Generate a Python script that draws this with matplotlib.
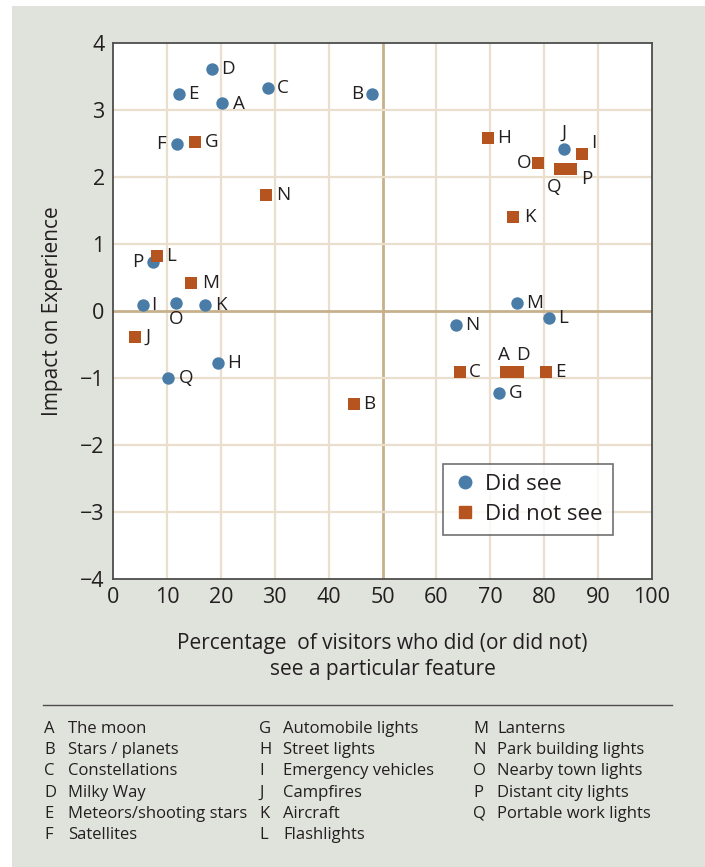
import matplotlib
matplotlib.use('Agg')
import matplotlib.pyplot as plt
from matplotlib.patches import Rectangle
from matplotlib.lines import Line2D

plt.rcParams['font.family'] = ['Open Sans', 'DejaVu Sans']

# data
seen_labels = ['A', 'B', 'C', 'D', 'E', 'F', 'G', 'H', 'I', 'J', 'K', 'L', 'M', 'N', 'O', 'P', 'Q']
seen_x = [20.2, 48.1, 28.8, 18.4, 12.2, 11.8, 71.6, 19.5, 5.5, 83.7, 17.1, 80.9, 74.9, 63.6, 11.7, 7.4, 10.2]
seen_y = [3.10, 3.24, 3.33, 3.61, 3.24, 2.49, -1.22, -0.78, 0.09, 2.42, 0.09, -0.10, 0.12, -0.21, 0.12, 0.73, -1.00]

notseen_labels = ['A', 'B', 'C', 'D', 'E', 'G', 'H', 'I', 'J', 'K', 'L', 'M', 'N', 'O', 'P', 'Q']
notseen_x = [72.9, 44.7, 64.4, 75.1, 80.3, 15.2, 69.5, 87.0, 4.1, 74.3, 8.1, 14.5, 28.4, 78.9, 85.0, 83.0]
notseen_y = [-0.91, -1.39, -0.91, -0.91, -0.91, 2.52, 2.58, 2.34, -0.39, 1.40, 0.82, 0.42, 1.73, 2.21, 2.12, 2.12]

key_letters = ['A', 'B', 'C', 'D', 'E', 'F', 'G', 'H', 'I', 'J', 'K', 'L', 'M', 'N', 'O', 'P', 'Q']
key_names = ['The moon', 'Stars / planets', 'Constellations', 'Milky Way', 'Meteors/shooting stars',
             'Satellites', 'Automobile lights', 'Street lights', 'Emergency vehicles', 'Campfires',
             'Aircraft', 'Flashlights', 'Lanterns', 'Park building lights', 'Nearby town lights',
             'Distant city lights', 'Portable work lights']

# label offsets in pixels (dx, dy) -- dy positive = up
seen_off = {'A': (17, -1), 'B': (-15, 0), 'C': (15, 0), 'D': (16, 0), 'E': (15, 0), 'F': (-16, 0),
            'G': (17, 0), 'H': (16, 0), 'I': (11, 0), 'J': (0, 16), 'K': (16, 0), 'L': (14, 0),
            'M': (18, 0), 'N': (16, 0), 'O': (0, -16), 'P': (-15, 0), 'Q': (18, 0)}
notseen_off = {'A': (-2, 17), 'B': (15, 0), 'C': (15, 0), 'D': (5, 17), 'E': (15, 0), 'G': (17, 0),
               'H': (16, 0), 'I': (12, 11), 'J': (13, 0), 'K': (16, 0), 'L': (14, 0), 'M': (19, 0),
               'N': (17, 0), 'O': (-14, 0), 'P': (16, -10), 'Q': (-6, -18)}

blue = '#4a7ca8'
orange = '#b5541f'
bg = '#e0e2dc'
grid_c = '#eadfcc'
mid_c = '#c7b18c'
text_c = '#231f20'

fig = plt.figure(figsize=(7.05, 8.67), dpi=100)
fig.patch.set_facecolor('white')
fig.patches.append(Rectangle((12 / 705, 0), 1 - 12 / 705, 1 - 6 / 867, transform=fig.transFigure,
                             facecolor=bg, edgecolor='none', zorder=-10))

ax = fig.add_axes([113 / 705, 1 - 579 / 867, 539 / 705, 536 / 867])
ax.set_facecolor('white')
ax.set_xlim(0, 100)
ax.set_ylim(-4, 4)
ax.set_xticks(range(0, 101, 10))
ax.set_yticks(range(-4, 5))
ax.set_yticklabels([str(v).replace('-', '\u2212') for v in range(-4, 5)])
ax.tick_params(length=0, labelsize=15.5, colors=text_c, pad=6)
for v in range(10, 100, 10):
    ax.axvline(v, color=mid_c if v == 50 else grid_c, lw=2 if v == 50 else 1.6, zorder=1)
for v in range(-3, 4):
    ax.axhline(v, color=mid_c if v == 0 else grid_c, lw=2 if v == 0 else 1.6, zorder=1)
for s in ax.spines.values():
    s.set_color('#4d4d4d')
    s.set_linewidth(1.3)

ax.scatter(seen_x, seen_y, s=80, marker='o', color=blue, zorder=3, linewidths=0)
ax.scatter(notseen_x, notseen_y, s=66, marker='s', color=orange, zorder=3, linewidths=0)

for lab, x, y in zip(seen_labels, seen_x, seen_y):
    ax.annotate(lab, (x, y), xytext=seen_off[lab], textcoords='offset pixels',
                ha='center', va='center', fontsize=13.5, color=text_c, zorder=4)
for lab, x, y in zip(notseen_labels, notseen_x, notseen_y):
    ax.annotate(lab, (x, y), xytext=notseen_off[lab], textcoords='offset pixels',
                ha='center', va='center', fontsize=13.5, color=text_c, zorder=4)

handles = [Line2D([], [], marker='o', ls='none', color=blue, markersize=9),
           Line2D([], [], marker='s', ls='none', color=orange, markersize=8)]
leg = ax.legend(handles, ['Did see', 'Did not see'], loc='upper left',
                bbox_to_anchor=((443 - 113) / 539, (579 - 464) / 536), borderaxespad=0,
                fontsize=16, frameon=True, fancybox=False, handletextpad=0.35,
                handlelength=1.1, borderpad=0.45, labelspacing=0.4)
leg.get_frame().set_edgecolor('#4d4d4d')
leg.get_frame().set_linewidth(1.2)
for t in leg.get_texts():
    t.set_color(text_c)

ax.set_ylabel('Impact on Experience', fontsize=15, color=text_c, labelpad=12)
ax.set_xlabel('Percentage  of visitors who did (or did not)\nsee a particular feature',
              fontsize=15, color=text_c, labelpad=18, linespacing=1.3)

# key below the chart
fig.add_artist(Line2D([43 / 705, 672 / 705], [1 - 705 / 867] * 2, transform=fig.transFigure,
                      color='#4d4d4d', lw=1))
col_x = [44, 259, 473]
for i, (letter, name) in enumerate(zip(key_letters, key_names)):
    col, row = divmod(i, 6)
    yy = 1 - (729 + row * 21.2) / 867
    fig.text(col_x[col] / 705, yy, letter, fontsize=12, color=text_c, va='center')
    fig.text((col_x[col] + 24) / 705, yy, name, fontsize=12, color=text_c, va='center')

fig.savefig('out.png', dpi=100)
